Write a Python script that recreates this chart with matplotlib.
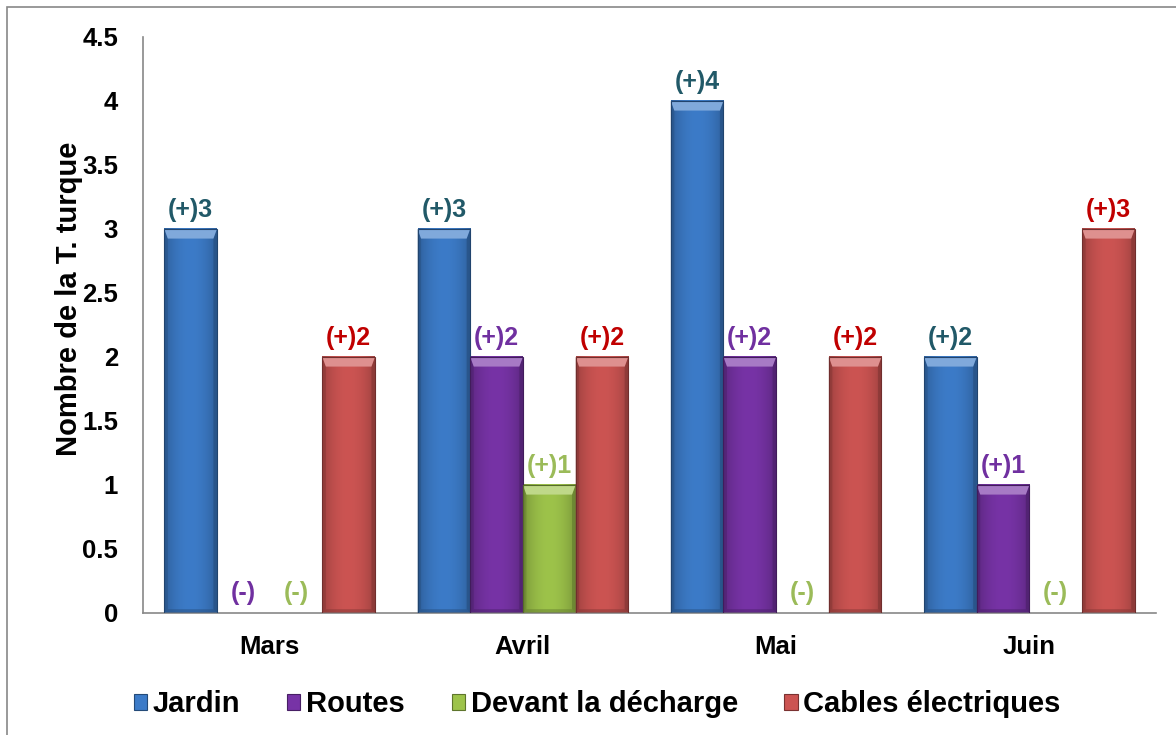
import numpy as np
import matplotlib.pyplot as plt
from matplotlib.colors import to_rgb
from matplotlib.patches import Polygon, Rectangle
from matplotlib.ticker import FuncFormatter, MultipleLocator

plt.rcParams['font.family'] = ['Liberation Sans', 'DejaVu Sans']
plt.rcParams['font.weight'] = 'bold'

months = ['Mars', 'Avril', 'Mai', 'Juin']
series = ['Jardin', 'Routes', 'Devant la décharge', 'Cables électriques']
jardin = [3, 3, 4, 2]
routes = [0, 2, 2, 1]
decharge = [0, 1, 0, 0]
cables = [2, 2, 2, 3]

bar_colors = ['#3c7bc8', '#7733a6', '#9dc34a', '#cc5452']
label_colors = ['#215968', '#7030a0', '#9bbb59', '#c00000']

# bevel sizes in data units
BEVEL_X = 0.014
BEVEL_Y = 0.075


def mix(c, other, t):
    c = np.array(to_rgb(c))
    return tuple(c * (1 - t) + np.array(other) * t)


def bevel_bar(ax, xl, xr, h, color):
    if h <= 0:
        return
    # face with a soft horizontal gradient, darker at the edges
    nx = 64
    u = np.linspace(-1, 1, nx)
    shade = 1.0 - 0.22 * np.abs(u) ** 2
    base = np.array(to_rgb(color))
    img = np.clip(base[None, None, :] * shade[None, :, None], 0, 1)
    img = np.repeat(img, 2, axis=0)
    ax.imshow(img, extent=(xl, xr, 0, h), aspect='auto', zorder=2,
              interpolation='bilinear')
    dark = mix(color, (0, 0, 0), 0.35)
    light = mix(color, (1, 1, 1), 0.35)
    ax.add_patch(Polygon([(xl, 0), (xl + BEVEL_X, BEVEL_Y * 0.4),
                          (xl + BEVEL_X, h - BEVEL_Y), (xl, h)],
                         closed=True, fc=dark, ec='none', alpha=0.55, zorder=3))
    ax.add_patch(Polygon([(xr, 0), (xr - BEVEL_X, BEVEL_Y * 0.4),
                          (xr - BEVEL_X, h - BEVEL_Y), (xr, h)],
                         closed=True, fc=dark, ec='none', alpha=0.7, zorder=3))
    ax.add_patch(Polygon([(xl, 0), (xr, 0), (xr - BEVEL_X, BEVEL_Y * 0.4),
                          (xl + BEVEL_X, BEVEL_Y * 0.4)],
                         closed=True, fc=dark, ec='none', alpha=0.5, zorder=3))
    ax.add_patch(Polygon([(xl, h), (xr, h), (xr - BEVEL_X, h - BEVEL_Y),
                          (xl + BEVEL_X, h - BEVEL_Y)],
                         closed=True, fc=light, ec='none', zorder=3))
    ax.add_patch(Rectangle((xl, 0), xr - xl, h, fc='none',
                           ec=mix(color, (0, 0, 0), 0.45), lw=0.8, zorder=4))


fig = plt.figure(figsize=(11.76, 7.35), dpi=100)
ax = fig.add_axes([0.1216, 0.166, 0.8614, 0.7837])

x = np.arange(len(months))
width = 0.208
data = [jardin, routes, decharge, cables]
handles = []
for i, (name, vals) in enumerate(zip(series, data)):
    pos = x + (i - 1.5) * width
    bars = ax.bar(pos, vals, width, color=bar_colors[i], label=name, alpha=0)
    handles.append(Rectangle((0, 0), 1, 1, fc=bar_colors[i],
                             ec=mix(bar_colors[i], (0, 0, 0), 0.4), lw=0.8))
    for b, v in zip(bars, vals):
        bevel_bar(ax, b.get_x(), b.get_x() + b.get_width(), v, bar_colors[i])
        txt = f'(+){v}' if v > 0 else '(-)'
        ax.annotate(txt, (b.get_x() + b.get_width() / 2, v),
                    xytext=(0, 5 if v > 0 else 6), textcoords='offset points',
                    ha='center', va='bottom', fontsize=18, fontweight='bold',
                    color=label_colors[i], zorder=5)

ax.set_xlim(-0.5, len(months) - 0.5)
ax.set_ylim(0, 4.5)
ax.yaxis.set_major_locator(MultipleLocator(0.5))
ax.yaxis.set_major_formatter(FuncFormatter(lambda v, p: f'{v:g}'))
ax.set_xticks(x)
ax.set_xticklabels(months)
ax.tick_params(axis='both', length=0, labelsize=18.5)
ax.tick_params(axis='x', pad=16)
ax.tick_params(axis='y', pad=18)
for lbl in ax.get_xticklabels() + ax.get_yticklabels():
    lbl.set_fontweight('bold')
ax.set_ylabel('Nombre de la T. turque', fontsize=21, fontweight='bold')
ax.yaxis.set_label_coords(-0.059, 0.545)

for side in ['top', 'right']:
    ax.spines[side].set_visible(False)
for side in ['left', 'bottom']:
    ax.spines[side].set_color('#888888')
    ax.spines[side].set_linewidth(1.2)

fig.legend(handles, series, loc='center', bbox_to_anchor=(0.508, 0.042),
           ncol=4, frameon=False, handlelength=0.45,
           handleheight=0.45, handletextpad=0.2, columnspacing=1.6,
           prop={'weight': 'bold', 'size': 21})

# outer frame around the chart area
fig.add_artist(Rectangle((0.006, -0.02), 1.0, 1.0105, transform=fig.transFigure,
                         fc='none', ec='#888888', lw=1.2))

fig.savefig('out.png', dpi=100)
